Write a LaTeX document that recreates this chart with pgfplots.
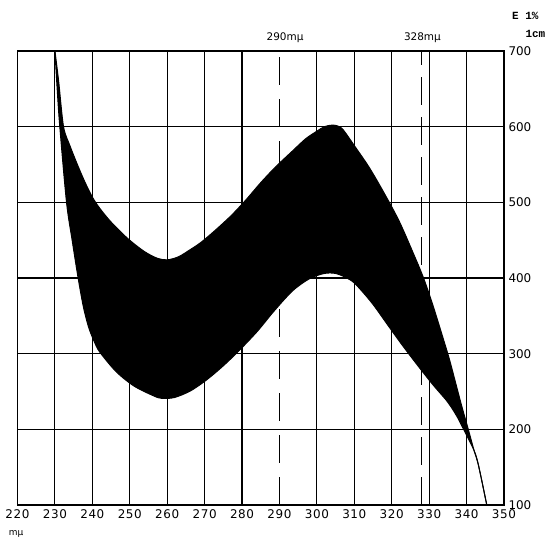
\documentclass[border=0pt]{standalone}
\usepackage{fontspec}
\setmainfont{DejaVu Sans}
\setmonofont{Liberation Mono}
\newfontfamily\xlab{DejaVu Sans}[LetterSpace=5]
\usepackage{pgfplots}
\pgfplotsset{compat=1.18}
\usepgfplotslibrary{fillbetween}

\begin{document}
\begin{tikzpicture}
\begin{axis}[
  name=ax, at={(0,0)}, anchor=south west,
  scale only axis, width=486.5bp, height=454bp,
  xmin=220, xmax=350, ymin=100, ymax=700,
  clip=false,
  axis line style={black, line width=1.2pt},
  xtick={220,230,...,350}, ytick={100,200,...,700},
  major tick length=0pt,
  tick style={draw=none},
  yticklabel pos=right,
  ymajorgrids,
  extra x ticks={230,240,250,260,270,280,300,310,320,330,340},
  extra x tick labels={},
  extra x tick style={grid=major, tick style={draw=none}},
  major grid style={black, line width=1.1pt},
  /pgf/number format/assume math mode=true,
  xticklabel style={font=\xlab\fontsize{12}{14}\selectfont, yshift=-1bp},
  yticklabel style={font=\fontsize{12}{14}\selectfont, xshift=1bp},
]
% dashed marker lines
\addplot[black, line width=1.2pt, dash pattern=on 28bp off 14bp] coordinates {(290,100) (290,700)};
\addplot[black, line width=1.2pt, dash pattern=on 28bp off 12bp] coordinates {(328,100) (328,700)};

% upper boundary
\addplot[name path=up, black, line width=1pt, smooth, tension=0.5] coordinates {
(230,700)(231,660)(232.3,600)(234,575)(236,550)(238,527)(240,507)(242,492)(245,474)
(249.5,452)(253.9,435)(257.4,426)(260,424)(263,428)(266,437)(269,447)(272.6,462)
(277,482)(281,503)(285,526)(289,547)(293.3,567)(297,584)(300,594)(302,600)(304,602)
(305.5,601)(307,596)(310,575)(314,546)(318,512)(322,475)(326,430)(328.5,400)(331,364)
(334,316)(335.5,291)(337.2,259)(338.8,229)(340.4,201)(342,172)(343.2,152)(345.4,100)};

% lower boundary
\addplot[name path=lo, black, line width=1pt, smooth, tension=0.5] coordinates {
(230,700)(230.6,650)(231.3,600)(233.1,500)(234.6,450)(236.2,400)(237.6,362)(239,335)
(240.5,316)(242,302)(246.4,276)(251.2,257)(256.5,244)(258.5,241)(261.9,242)(266.3,251)
(270.7,266)(275,284)(279,303)(284,329)(288.5,356)(293.5,383)(298,399)(302,406)(305,406)
(308,400)(310.3,392)(314.7,367)(319.2,336)(323,310)(327,284)(331,259)(334.8,237)
(337.2,219)(339,202)(342,172)(343.2,152)(345.4,100)};

\addplot[black] fill between[of=up and lo];

\node[font=\fontsize{10.5}{12}\selectfont] at (axis cs:291.5,717) {290mμ};
\node[font=\fontsize{10.5}{12}\selectfont] at (axis cs:328.2,717) {328mμ};
\node[font=\ttfamily\bfseries\fontsize{11}{13}\selectfont] at (axis cs:355.7,746) {E 1\%};
\node[font=\ttfamily\bfseries\fontsize{11}{13}\selectfont] at (axis cs:358.4,722.5) {1cm};
\node[font=\fontsize{9}{10}\selectfont] at (axis cs:219.6,61.7) {mμ};
\end{axis}
\pgfresetboundingbox
\path (-17.5bp,-36bp) rectangle ++(549bp,541bp);
\end{tikzpicture}
\end{document}
